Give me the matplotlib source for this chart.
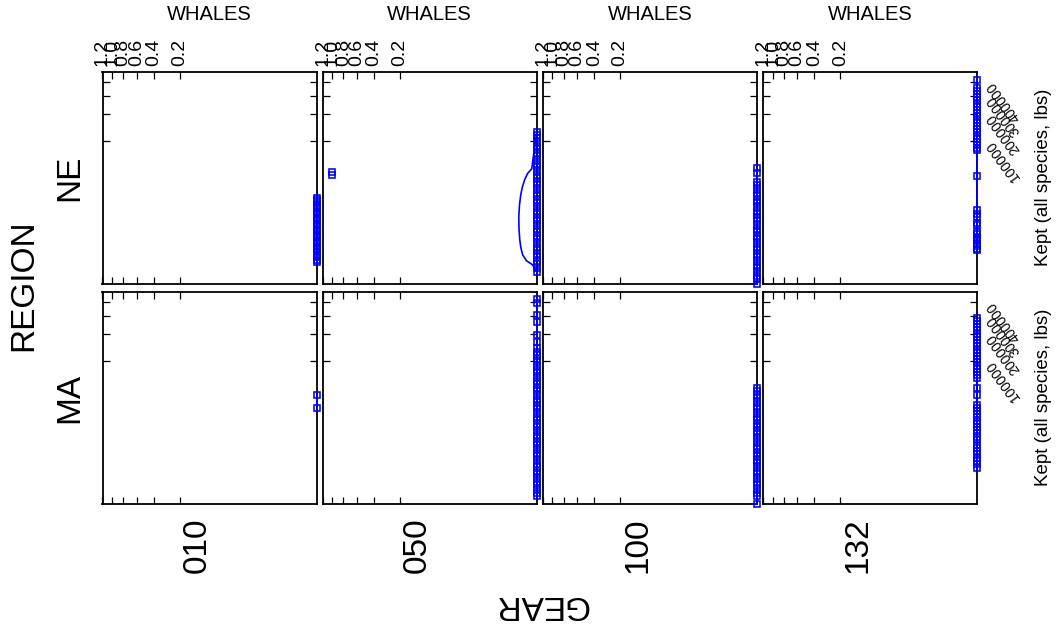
import numpy as np
import matplotlib
matplotlib.use("Agg")
import matplotlib.pyplot as plt

plt.rcParams['font.family'] = ['Liberation Sans', 'DejaVu Sans']

# ---- data -------------------------------------------------------------
gears = ["010", "050", "100", "132"]
regions = ["NE", "MA"]

whale_ticks = [0.2, 0.4, 0.6, 0.8, 1.0, 1.2]
whale_tick_labels = ["0.2", "0.4", "0.6", "0.8", "1.0", "1.2"]
kept_ticks = [100000, 200000, 300000, 400000]
kept_tick_labels = ["100000", "200000", "300000", "400000"]

# Kept (all species, lbs) for trips that caught no whales (WHALES = 0)
kept_ne_010 = [57, 84, 120, 165, 240, 305, 420, 525, 690, 840, 1060, 1310,
               1560, 1910, 2250, 2700, 3150, 3720, 4290, 5010, 5700, 6580,
               7450, 8520, 9580, 10850, 12100, 13400]
kept_ma_010 = [20500, 34000]
kept_ne_050 = [5, 14, 35, 64, 121, 195, 315, 470, 680, 950, 1290, 1740, 2260,
               2920, 3700, 4640, 5720, 7000, 8500, 10200, 12150, 14400, 16900,
               19700, 22900, 26400, 30400, 34700, 39500, 44800, 50600, 57000,
               63900, 71500, 79700, 88500, 98200, 108500, 119700, 130300]
kept_ma_050 = [429500, 397000, 310000, 268000, 198000, 168000, 144600, 130300,
               118400, 107300, 97000, 87500, 78700, 70600, 63100, 56200, 49950,
               44200, 38970, 34210, 29900, 26010, 22520, 19390, 16600, 14120,
               11930, 10000, 8320, 6860, 5600, 4520, 3610, 2840, 2200, 1680,
               1250, 915, 650, 448, 297, 187, 112, 61, 30, 13, 4, 1]
kept_ne_100 = [44200, 37300, 26430, 22890, 19720, 16890, 14380, 12160, 10200,
               8490, 7010, 5730, 4630, 3700, 2920, 2270, 1730, 1300, 950, 680,
               470, 310, 200, 120, 66, 33, 14, 5, 1.2, 0.1, 0]
kept_ma_100 = [44500, 39200, 34000, 30100, 25800, 22700, 19300, 16700, 14000,
               12000, 9900, 8400, 6800, 5650, 4500, 3650, 2800, 2230, 1650,
               1270, 900, 660, 440, 300, 185, 115, 60, 31, 12, 4, 1, 0]
kept_ne_132 = [422800, 360300, 337300, 315500, 294700, 275000, 256300, 238500,
               221700, 205800, 190800, 176600, 163200, 150600, 138800, 127600,
               117100, 107300, 98200, 89600, 81600, 78700, 33200, 7300, 5900,
               4900, 3300, 2950, 1785, 1480, 1210, 990, 790, 625, 480, 375, 326]
kept_ma_132 = [292200, 272600, 254000, 236400, 219700, 203900, 189000, 174900,
               161600, 149100, 137300, 126300, 115900, 106100, 97000, 88500,
               80600, 73200, 66400, 60000, 44200, 34200, 23640, 20740, 18110,
               15740, 13600, 11700, 10000, 8490, 7160, 6000, 4980, 4100, 3000,
               2400, 1900, 1480, 1130, 850, 625, 410]

# trips with whales caught (NE, gear 050)
whale_trip_kept_ne_050 = [37700, 34500]
whale_trip_whales_ne_050 = [1.0, 1.0]

# smoothed WHALES ~ Kept curve for NE, gear 050
fit_kept_ne_050 = [130300, 42700, 36000, 28600, 21000, 15300, 9500, 4900,
                   2200, 915, 400, 173, 70, 32, 5]
fit_whales_ne_050 = [0.0, 3.4e-7, 4.0e-6, 1.2e-5, 2.5e-5, 3.7e-5, 5.0e-5,
                     5.9e-5, 5.6e-5, 4.7e-5, 3.5e-5, 2.2e-5, 6.0e-6, 1.4e-7, 0.0]

points = {
    ("NE", "010"): kept_ne_010, ("NE", "050"): kept_ne_050,
    ("NE", "100"): kept_ne_100, ("NE", "132"): kept_ne_132,
    ("MA", "010"): kept_ma_010, ("MA", "050"): kept_ma_050,
    ("MA", "100"): kept_ma_100, ("MA", "132"): kept_ma_132,
}

# ---- layout (pixels) --------------------------------------------------
W, H = 1057, 628
col_left = [102.5, 322.7, 542.9, 763.1]
col_w = 214.0
row_top = [71.5, 291.5]
row_h = 212.5

BLUE = "#0000ff"
MARK = dict(linestyle='none', marker='s', markersize=4.4,
            markerfacecolor='none', markeredgecolor=BLUE, mew=1.15,
            clip_on=False, zorder=4)


def fwd(v):
    v = np.asarray(v, dtype=float)
    return np.sign(v) * np.abs(v) ** 0.25


def inv(v):
    v = np.asarray(v, dtype=float)
    return np.sign(v) * np.abs(v) ** 4


fig = plt.figure(figsize=(W / 100, H / 100), dpi=100)

for r, region in enumerate(regions):
    for c, gear in enumerate(gears):
        ax = fig.add_axes([col_left[c] / W, 1 - (row_top[r] + row_h) / H,
                           col_w / W, row_h / H])
        ax.set_xscale('function', functions=(fwd, inv))
        ax.set_yscale('function', functions=(fwd, inv))

        kept = np.asarray(points[(region, gear)], dtype=float)
        whales = np.zeros_like(kept)

        # smoothed curve
        if (region, gear) == ("NE", "050"):
            ax.plot(fit_whales_ne_050, fit_kept_ne_050, color=BLUE, lw=1.2,
                    clip_on=False, zorder=3)
        else:
            ax.plot([0, 0], [kept.min(), kept.max()], color=BLUE, lw=1.2,
                    clip_on=False, zorder=3)

        ax.plot(whales, kept, **MARK)
        if (region, gear) == ("NE", "050"):
            ax.plot(whale_trip_whales_ne_050, whale_trip_kept_ne_050, **MARK)

        ax.set_xlim(1.2, 0)
        ax.set_ylim(0, 493000)

        ax.set_xticks(whale_ticks)
        ax.set_xticklabels(whale_tick_labels)
        ax.set_yticks(kept_ticks)
        ax.set_yticklabels(kept_tick_labels)
        ax.minorticks_off()

        ax.tick_params(axis='x', direction='in', top=True, bottom=True,
                       length=5, width=0.9, labeltop=(r == 0),
                       labelbottom=False, labelsize=14, labelrotation=90,
                       pad=4)
        ax.tick_params(axis='y', direction='in', left=True, right=True,
                       length=5, width=0.9, labelleft=False,
                       labelright=(c == 3), labelsize=10, pad=9)
        for lab in ax.get_yticklabels():
            lab.set_rotation(126)
            lab.set_rotation_mode('anchor')
            lab.set_horizontalalignment('right')
            lab.set_verticalalignment('center')

        for sp in ax.spines.values():
            sp.set_linewidth(1.3)

# column headers and gear labels
for c in range(4):
    xc = (col_left[c] + col_w / 2) / W
    fig.text(xc, 1 - 14 / H, "WHALES", ha='center', va='center', fontsize=14.5)
    fig.text(xc - 12 / W, 1 - 545 / H, gears[c], ha='center', va='center',
             fontsize=24, rotation=90)

# right-hand axis titles and region labels
for r in range(2):
    yc = 1 - (row_top[r] + row_h / 2) / H
    fig.text(1043 / W, yc, "Kept (all species, lbs)", ha='center',
             va='center', fontsize=13.5, rotation=90)
    fig.text(70 / W, yc, regions[r], ha='center', va='center', fontsize=24,
             rotation=90)

fig.text(24 / W, 1 - 285 / H, "REGION", ha='center', va='center',
         fontsize=24, rotation=90)
fig.text(541 / W, 1 - 605 / H, "GEAR", ha='center', va='center',
         fontsize=24, rotation=180)

fig.savefig("out.png", dpi=100)
